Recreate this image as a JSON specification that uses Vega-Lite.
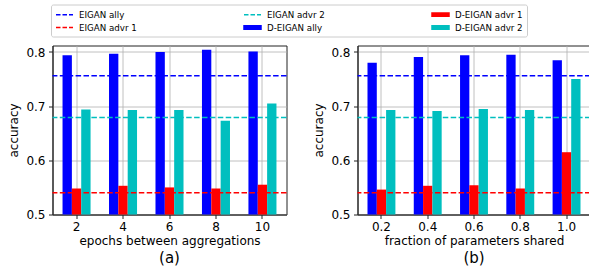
{
  "$schema": "https://vega.github.io/schema/vega-lite/v6.json",
  "background": "white",
  "padding": {"left": 6.5, "top": 3.5, "right": 0, "bottom": 0},
  "autosize": {"type": "pad"},
  "datasets": {
    "bars_a": [
      {"epochs": 2, "series": "D-EIGAN ally", "accuracy": 0.794},
      {"epochs": 4, "series": "D-EIGAN ally", "accuracy": 0.797},
      {"epochs": 6, "series": "D-EIGAN ally", "accuracy": 0.800},
      {"epochs": 8, "series": "D-EIGAN ally", "accuracy": 0.804},
      {"epochs": 10, "series": "D-EIGAN ally", "accuracy": 0.801},
      {"epochs": 2, "series": "D-EIGAN advr 1", "accuracy": 0.548},
      {"epochs": 4, "series": "D-EIGAN advr 1", "accuracy": 0.553},
      {"epochs": 6, "series": "D-EIGAN advr 1", "accuracy": 0.550},
      {"epochs": 8, "series": "D-EIGAN advr 1", "accuracy": 0.548},
      {"epochs": 10, "series": "D-EIGAN advr 1", "accuracy": 0.555},
      {"epochs": 2, "series": "D-EIGAN advr 2", "accuracy": 0.694},
      {"epochs": 4, "series": "D-EIGAN advr 2", "accuracy": 0.693},
      {"epochs": 6, "series": "D-EIGAN advr 2", "accuracy": 0.693},
      {"epochs": 8, "series": "D-EIGAN advr 2", "accuracy": 0.673},
      {"epochs": 10, "series": "D-EIGAN advr 2", "accuracy": 0.705}
    ],
    "bars_b": [
      {"fraction": "0.2", "series": "D-EIGAN ally", "accuracy": 0.780},
      {"fraction": "0.4", "series": "D-EIGAN ally", "accuracy": 0.791},
      {"fraction": "0.6", "series": "D-EIGAN ally", "accuracy": 0.794},
      {"fraction": "0.8", "series": "D-EIGAN ally", "accuracy": 0.795},
      {"fraction": "1.0", "series": "D-EIGAN ally", "accuracy": 0.785},
      {"fraction": "0.2", "series": "D-EIGAN advr 1", "accuracy": 0.546},
      {"fraction": "0.4", "series": "D-EIGAN advr 1", "accuracy": 0.553},
      {"fraction": "0.6", "series": "D-EIGAN advr 1", "accuracy": 0.554},
      {"fraction": "0.8", "series": "D-EIGAN advr 1", "accuracy": 0.548},
      {"fraction": "1.0", "series": "D-EIGAN advr 1", "accuracy": 0.615},
      {"fraction": "0.2", "series": "D-EIGAN advr 2", "accuracy": 0.693},
      {"fraction": "0.4", "series": "D-EIGAN advr 2", "accuracy": 0.691},
      {"fraction": "0.6", "series": "D-EIGAN advr 2", "accuracy": 0.695},
      {"fraction": "0.8", "series": "D-EIGAN advr 2", "accuracy": 0.693},
      {"fraction": "1.0", "series": "D-EIGAN advr 2", "accuracy": 0.750}
    ],
    "lines": [
      {"series": "EIGAN ally", "accuracy": 0.756},
      {"series": "EIGAN advr 1", "accuracy": 0.540},
      {"series": "EIGAN advr 2", "accuracy": 0.679}
    ]
  },
  "hconcat": [
    {
      "width": 234,
      "height": 169,
      "title": {"text": "(a)", "orient": "bottom", "anchor": "middle", "fontSize": 15, "fontWeight": "normal", "font": "DejaVu Sans", "offset": 4, "color": "#000"},
      "layer": [
        {
          "data": {"name": "bars_a"},
          "mark": {"type": "bar"},
          "encoding": {
            "x": {"field": "epochs", "type": "ordinal", "title": "epochs between aggregations",
                  "scale": {"paddingInner": 0.397, "paddingOuter": 0.216},
                  "axis": {"grid": true, "bandPosition": 0.5, "labelAngle": 0}},
            "xOffset": {"field": "series", "type": "nominal",
                        "scale": {"domain": ["D-EIGAN ally", "D-EIGAN advr 1", "D-EIGAN advr 2"], "paddingInner": 0, "paddingOuter": 0}},
            "y": {"field": "accuracy", "type": "quantitative", "title": "accuracy",
                  "scale": {"domain": [0.5, 0.812], "zero": false, "nice": false},
                  "axis": {"values": [0.5, 0.6, 0.7, 0.8], "format": ".1f", "grid": true}},
            "y2": {"datum": 0.5},
            "color": {"field": "series", "type": "nominal",
                      "scale": {"domain": ["EIGAN ally", "EIGAN advr 2", "D-EIGAN advr 1", "EIGAN advr 1", "D-EIGAN ally", "D-EIGAN advr 2"],
                                "range": ["#0000ff", "#00bfbf", "#ff0000", "#ff0000", "#0000ff", "#00bfbf"]},
                      "legend": {
                        "title": null,
                        "orient": "none",
                        "legendX": -1.5,
                        "legendY": -41,
                        "direction": "horizontal",
                        "columns": 3,
                        "gridAlign": "all",
                        "columnPadding": 94,
                        "rowPadding": 2,
                        "padding": 4,
                        "strokeColor": "#cccccc",
                        "fillColor": "#ffffff",
                        "cornerRadius": 2,
                        "symbolSize": 100,
                        "symbolStrokeWidth": 1.5,
                        "labelOffset": 12,
                        "labelFontSize": 8.7,
                        "labelFont": "DejaVu Sans",
                        "labelColor": "#000",
                        "encoding": {
                          "symbols": {
                            "shape": {"condition": {"test": "indexof(datum.value, 'D-') < 0", "value": "M-1,0H2.4"}, "value": "M-1,-0.33H2.4V0.33H-1Z"},
                            "fill": {"condition": {"test": "indexof(datum.value, 'D-') < 0", "value": "transparent"}, "value": {"expr": "scale('color', datum.value)"}},
                            "stroke": {"condition": {"test": "indexof(datum.value, 'D-') < 0", "value": {"expr": "scale('color', datum.value)"}}, "value": "transparent"},
                            "strokeDash": {"condition": {"test": "indexof(datum.value, 'D-') < 0", "value": [4.5, 2]}, "value": []},
                            "strokeWidth": {"value": 1.5},
                            "opacity": {"value": 1}
                          }
                        }
                      }}
          }
        },
        {
          "data": {"name": "lines"},
          "mark": {"type": "rule", "strokeDash": [5.5, 2.4], "strokeWidth": 1.5},
          "encoding": {
            "y": {"field": "accuracy", "type": "quantitative"},
            "color": {"field": "series", "type": "nominal"}
          }
        }
      ]
    },
    {
      "width": 233,
      "height": 169,
      "title": {"text": "(b)", "orient": "bottom", "anchor": "middle", "fontSize": 15, "fontWeight": "normal", "font": "DejaVu Sans", "offset": 4, "color": "#000"},
      "layer": [
        {
          "data": {"name": "bars_b"},
          "mark": {"type": "bar"},
          "encoding": {
            "x": {"field": "fraction", "type": "ordinal", "title": "fraction of parameters shared",
                  "scale": {"paddingInner": 0.397, "paddingOuter": 0.216},
                  "axis": {"grid": true, "bandPosition": 0.5, "labelAngle": 0}},
            "xOffset": {"field": "series", "type": "nominal",
                        "scale": {"domain": ["D-EIGAN ally", "D-EIGAN advr 1", "D-EIGAN advr 2"], "paddingInner": 0, "paddingOuter": 0}},
            "y": {"field": "accuracy", "type": "quantitative", "title": "accuracy",
                  "scale": {"domain": [0.5, 0.812], "zero": false, "nice": false},
                  "axis": {"values": [0.5, 0.6, 0.7, 0.8], "format": ".1f", "grid": true}},
            "y2": {"datum": 0.5},
            "color": {"field": "series", "type": "nominal"}
          }
        },
        {
          "data": {"name": "lines"},
          "mark": {"type": "rule", "strokeDash": [5.5, 2.4], "strokeWidth": 1.5},
          "encoding": {
            "y": {"field": "accuracy", "type": "quantitative"},
            "color": {"field": "series", "type": "nominal"}
          }
        }
      ]
    }
  ],
  "spacing": 23,
  "resolve": {"scale": {"color": "shared", "x": "independent", "y": "independent", "xOffset": "independent"}},
  "config": {
    "font": "DejaVu Sans",
    "view": {"stroke": "#222222", "strokeWidth": 1},
    "axis": {
      "zindex": 1,
      "domainColor": "#222222",
      "tickColor": "#222222",
      "labelColor": "#000000",
      "titleColor": "#000000",
      "labelFontSize": 12,
      "titleFontSize": 12,
      "titleFontWeight": "normal",
      "labelFont": "DejaVu Sans",
      "titleFont": "DejaVu Sans",
      "gridColor": "#b0b0b0",
      "gridWidth": 0.8,
      "tickSize": 4
    },
    "axisX": {"labelPadding": 3, "titlePadding": 3},
    "axisY": {"labelPadding": 3.5, "titlePadding": 5.5}
  }
}
